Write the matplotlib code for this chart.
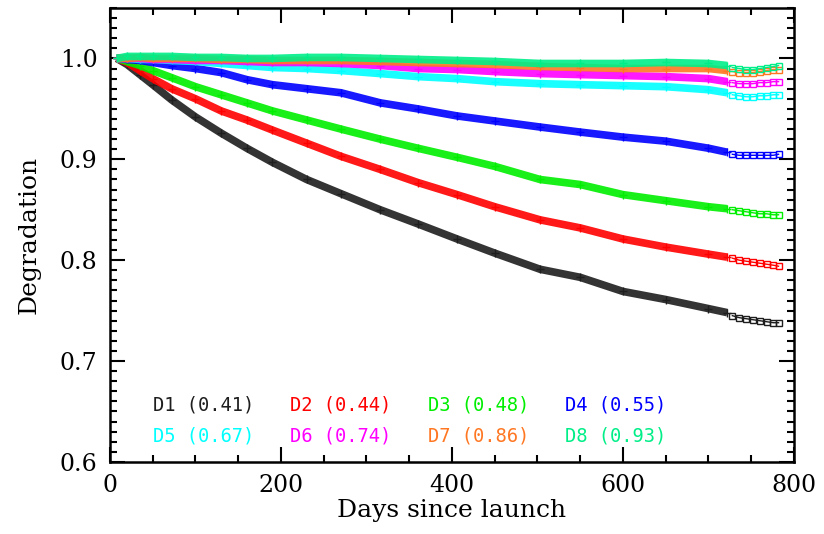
import matplotlib
matplotlib.use("Agg")
import matplotlib.pyplot as plt
from matplotlib.ticker import MultipleLocator

# jours (partie dense) et fin de série (points espacés)
days = [8, 20, 35, 50, 72, 100, 130, 160, 190, 230, 270, 316, 360, 406,
        450, 503, 550, 600, 650, 700, 722]
days_tail = [728, 736, 744, 752, 760, 768, 776, 782]

d1 = [1.000, 0.994, 0.984, 0.974, 0.959, 0.942, 0.926, 0.911, 0.897, 0.880, 0.866,
      0.850, 0.836, 0.821, 0.807, 0.791, 0.783, 0.769, 0.761, 0.752, 0.748]
d1_tail = [0.745, 0.743, 0.742, 0.741, 0.740, 0.739, 0.738, 0.738]
d2 = [1.000, 0.996, 0.988, 0.980, 0.970, 0.960, 0.948, 0.939, 0.929, 0.916, 0.903,
      0.890, 0.877, 0.865, 0.853, 0.840, 0.832, 0.821, 0.813, 0.806, 0.803]
d2_tail = [0.802, 0.800, 0.799, 0.798, 0.797, 0.796, 0.795, 0.794]
d3 = [1.000, 0.997, 0.993, 0.988, 0.981, 0.972, 0.964, 0.956, 0.948, 0.939, 0.930,
      0.920, 0.911, 0.902, 0.893, 0.880, 0.875, 0.865, 0.859, 0.853, 0.851]
d3_tail = [0.850, 0.849, 0.848, 0.847, 0.846, 0.846, 0.845, 0.845]
d4 = [1.000, 0.999, 0.998, 0.996, 0.993, 0.990, 0.986, 0.979, 0.974, 0.970, 0.966,
      0.956, 0.950, 0.943, 0.938, 0.932, 0.927, 0.922, 0.918, 0.911, 0.907]
d4_tail = [0.905, 0.904, 0.904, 0.904, 0.904, 0.904, 0.904, 0.905]
d5 = [1.000, 1.000, 0.999, 0.999, 0.998, 0.997, 0.995, 0.993, 0.991, 0.990, 0.988,
      0.985, 0.982, 0.980, 0.977, 0.975, 0.974, 0.973, 0.972, 0.969, 0.966]
d5_tail = [0.964, 0.963, 0.962, 0.962, 0.963, 0.963, 0.964, 0.964]
d6 = [1.000, 1.000, 1.000, 0.999, 0.999, 0.998, 0.998, 0.997, 0.996, 0.996, 0.995,
      0.993, 0.990, 0.989, 0.987, 0.985, 0.984, 0.983, 0.982, 0.980, 0.977]
d6_tail = [0.976, 0.975, 0.975, 0.975, 0.976, 0.976, 0.977, 0.977]
d7 = [1.000, 1.000, 1.001, 1.000, 1.000, 1.000, 0.999, 0.999, 0.998, 0.998, 0.998,
      0.997, 0.996, 0.995, 0.994, 0.992, 0.991, 0.990, 0.990, 0.990, 0.988]
d7_tail = [0.987, 0.986, 0.986, 0.986, 0.987, 0.988, 0.989, 0.989]
d8 = [1.000, 1.002, 1.002, 1.002, 1.002, 1.001, 1.001, 1.000, 1.000, 1.001, 1.001,
      1.000, 0.999, 0.998, 0.997, 0.995, 0.995, 0.995, 0.996, 0.995, 0.993]
d8_tail = [0.991, 0.990, 0.989, 0.989, 0.990, 0.991, 0.992, 0.993]

labels = ["D1 (0.41)", "D2 (0.44)", "D3 (0.48)", "D4 (0.55)",
          "D5 (0.67)", "D6 (0.74)", "D7 (0.86)", "D8 (0.93)"]
colors = ["#1e1e1e", "#ff0000", "#00ee00", "#0000ff",
          "#00ffff", "#ff00ff", "#ff7722", "#00ee88"]

series = [(d1, d1_tail), (d2, d2_tail), (d3, d3_tail), (d4, d4_tail),
          (d5, d5_tail), (d6, d6_tail), (d7, d7_tail), (d8, d8_tail)]

fig = plt.figure(figsize=(8.24, 5.34), dpi=100)
ax = fig.add_axes([0.1335, 0.135, 0.83, 0.85])

for (main, tail), col in zip(series, colors):
    ax.plot(days, main, color=col, lw=5.5, solid_capstyle="butt", alpha=0.9)
    ax.plot(days, main, color=col, lw=0, marker="+", ms=6, mew=1)
    ax.plot(days_tail, tail, color=col, lw=1, marker="s", ms=5,
            mfc="none", mew=1)

ax.set_xlim(0, 800)
ax.set_ylim(0.6, 1.05)
ax.xaxis.set_major_locator(MultipleLocator(200))
ax.xaxis.set_minor_locator(MultipleLocator(50))
ax.yaxis.set_major_locator(MultipleLocator(0.1))
ax.yaxis.set_minor_locator(MultipleLocator(0.01))
ax.yaxis.set_major_formatter(matplotlib.ticker.FormatStrFormatter("%.1f"))
ax.tick_params(which="both", direction="in", top=True, right=True, width=1.5,
               labelsize=17, pad=9)
ax.tick_params(which="major", length=11)
ax.tick_params(which="minor", length=5)
for lab in ax.get_xticklabels() + ax.get_yticklabels():
    lab.set_family("DejaVu Serif")
for sp in ax.spines.values():
    sp.set_linewidth(1.8)

ax.set_xlabel("Days since launch", family="DejaVu Serif", fontsize=18, labelpad=1)
ax.set_ylabel("Degradation", family="DejaVu Serif", fontsize=18, labelpad=14)

# étiquettes de couleur
lx = [50, 210, 372, 532]
ly = [0.6564, 0.6257]
for i, (lab, col) in enumerate(zip(labels, colors)):
    ax.text(lx[i % 4], ly[i // 4], lab, color=col, fontsize=13.5,
            family="DejaVu Sans Mono", va="center", ha="left")

fig.savefig("out.png", dpi=100)
